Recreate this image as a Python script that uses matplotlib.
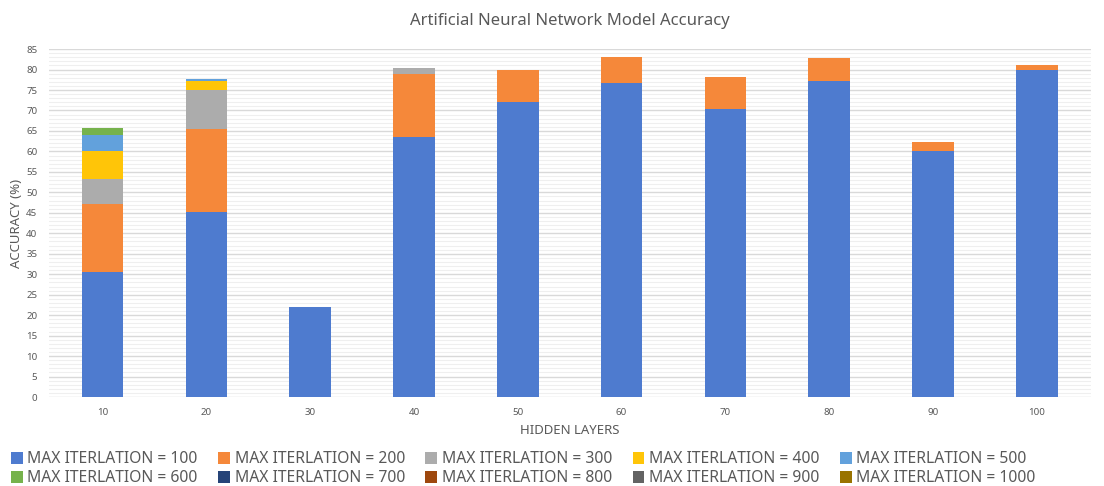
import numpy as np
from matplotlib import pyplot as plt
from matplotlib.ticker import MultipleLocator

# hidden layer counts on the x axis
hidden_layers = ['10', '20', '30', '40', '50', '60', '70', '80', '90', '100']

# accuracy gained at each max-iteration setting (stacked segments)
iter_100 = [30.6, 45.3, 22.0, 63.5, 72.1, 76.8, 70.3, 77.1, 60.1, 79.9]
iter_200 = [16.5, 20.1, 0.0, 15.3, 7.8, 6.3, 7.8, 5.7, 2.2, 1.2]
iter_300 = [6.2, 9.7, 0.0, 1.5, 0.0, 0.0, 0.0, 0.0, 0.0, 0.0]
iter_400 = [6.7, 2.2, 0.0, 0.0, 0.0, 0.0, 0.0, 0.0, 0.0, 0.0]
iter_500 = [3.9, 0.4, 0.0, 0.0, 0.0, 0.0, 0.0, 0.0, 0.0, 0.0]
iter_600 = [1.9, 0.0, 0.0, 0.0, 0.0, 0.0, 0.0, 0.0, 0.0, 0.0]
iter_700 = [0.0] * 10
iter_800 = [0.0] * 10
iter_900 = [0.0] * 10
iter_1000 = [0.0] * 10

series = [
    ('MAX ITERLATION = 100', iter_100, '#4e7bcf'),
    ('MAX ITERLATION = 200', iter_200, '#f5883a'),
    ('MAX ITERLATION = 300', iter_300, '#acacac'),
    ('MAX ITERLATION = 400', iter_400, '#ffc508'),
    ('MAX ITERLATION = 500', iter_500, '#62a1dc'),
    ('MAX ITERLATION = 600', iter_600, '#76b24c'),
    ('MAX ITERLATION = 700', iter_700, '#264478'),
    ('MAX ITERLATION = 800', iter_800, '#9e480e'),
    ('MAX ITERLATION = 900', iter_900, '#636363'),
    ('MAX ITERLATION = 1000', iter_1000, '#997300'),
]

plt.rcParams['font.family'] = ['Noto Sans', 'DejaVu Sans']
text_color = '#595959'

fig = plt.figure(figsize=(11.04, 4.86), dpi=100)
ax = fig.add_axes([0.044, 0.183, 0.944, 0.716])

x = np.arange(len(hidden_layers))
bottom = np.zeros(len(hidden_layers))
handles = []
for label, values, color in series:
    bars = ax.bar(x, values, width=0.4, bottom=bottom, color=color,
                  linewidth=0, label=label, zorder=3)
    handles.append(bars)
    bottom += np.array(values)

ax.set_xlim(-0.52, len(hidden_layers) - 0.48)
ax.set_ylim(0, 85)
ax.set_xticks(x)
ax.set_xticklabels(hidden_layers)
ax.yaxis.set_major_locator(MultipleLocator(5))
ax.yaxis.set_minor_locator(MultipleLocator(1))
ax.grid(axis='y', which='major', color='#d9d9d9', linewidth=1.0, zorder=0)
ax.grid(axis='y', which='minor', color='#efefef', linewidth=0.8, zorder=0)
ax.tick_params(axis='both', which='both', length=0, labelsize=7,
               labelcolor=text_color, pad=8)
for spine in ax.spines.values():
    spine.set_visible(False)

ax.set_title('Artificial Neural Network Model Accuracy', fontsize=12,
             color=text_color, pad=17)
ax.set_ylabel('ACCURACY (%)', fontsize=9.5, color=text_color, labelpad=2)
ax.set_xlabel('HIDDEN LAYERS', fontsize=9.5, color=text_color, labelpad=5)

# legend laid out row by row: 100..500 on top, 600..1000 below
order = [0, 5, 1, 6, 2, 7, 3, 8, 4, 9]
fig.legend([handles[i] for i in order], [series[i][0] for i in order],
           loc='lower center', bbox_to_anchor=(0.474, -0.03), ncol=5,
           frameon=False, fontsize=11.3, labelcolor=text_color,
           handlelength=0.75, handleheight=0.75, handletextpad=0.3,
           columnspacing=1.3, labelspacing=0.2)

plt.savefig('out.png', dpi=100)
